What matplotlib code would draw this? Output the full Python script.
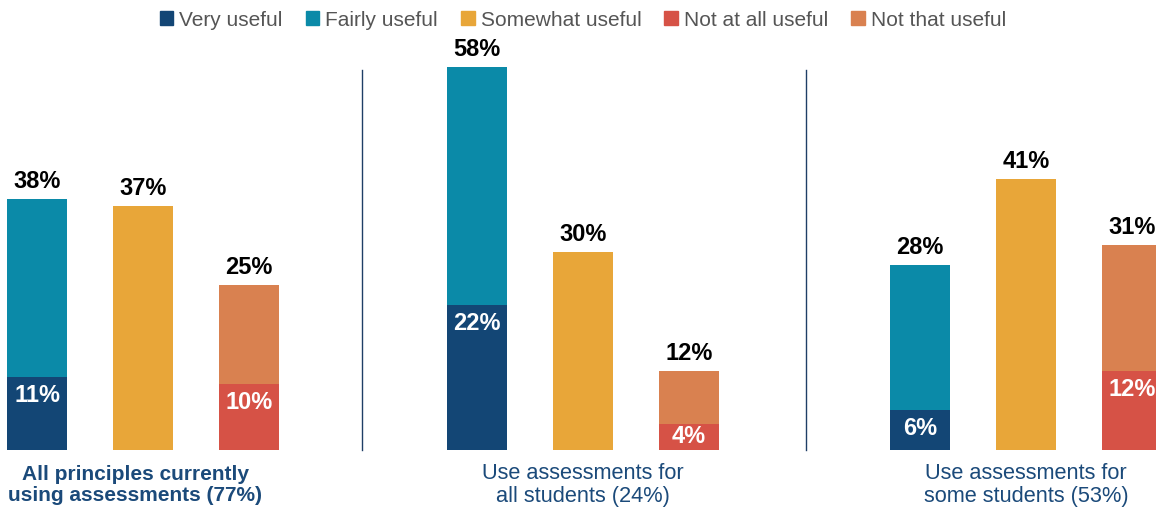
import numpy as np
import matplotlib.pyplot as plt
from matplotlib.patches import Patch

plt.rcParams['font.family'] = ['Liberation Sans', 'DejaVu Sans']

# données
groupes = ["All principles currently\nusing assessments (77%)",
           "Use assessments for\nall students (24%)",
           "Use assessments for\nsome students (53%)"]
very_useful = [11, 22, 6]
useful_total = [38, 58, 28]      # very + fairly
somewhat_useful = [37, 30, 41]
not_at_all = [10, 4, 12]
not_useful_total = [25, 12, 31]  # not at all + not that

legende = ["Very useful", "Fairly useful", "Somewhat useful", "Not at all useful", "Not that useful"]
couleurs = ["#134675", "#0b8aa8", "#e8a639", "#d65246", "#d98150"]

centres = np.array([143, 583, 1026])
ecart = 106
largeur = 60

fig = plt.figure(figsize=(11.56, 5.11), dpi=100)
ax = fig.add_axes([0, 0, 1, 1])
ax.set_xlim(0, 1156)
ax.set_ylim(-61 / 6.6, 450 / 6.6)
ax.axis('off')

x1 = centres - ecart
x2 = centres
x3 = centres + ecart

# barres empilées
fairly = np.array(useful_total) - np.array(very_useful)
not_that = np.array(not_useful_total) - np.array(not_at_all)
ax.bar(x1, very_useful, largeur, color=couleurs[0])
ax.bar(x1, fairly, largeur, bottom=very_useful, color=couleurs[1])
ax.bar(x2, somewhat_useful, largeur, color=couleurs[2])
ax.bar(x3, not_at_all, largeur, color=couleurs[3])
ax.bar(x3, not_that, largeur, bottom=not_at_all, color=couleurs[4])

# étiquettes
for xs, tot in [(x1, useful_total), (x2, somewhat_useful), (x3, not_useful_total)]:
    for x, v in zip(xs, tot):
        ax.text(x, v + 0.9, f"{v}%", ha='center', va='bottom',
                fontsize=17, fontweight='bold', color='black')
for xs, vals in [(x1, very_useful), (x3, not_at_all)]:
    for x, v in zip(xs, vals):
        ax.text(x, v - min(2.8, v / 2), f"{v}%", ha='center', va='center',
                fontsize=17, fontweight='bold', color='white')

# séparateurs
for xl in [362, 806]:
    ax.plot([xl, xl], [0, 380 / 6.6], color="#1f3f66", lw=1)

# noms des groupes
for i, (x, g) in enumerate(zip(centres, groupes)):
    if i == 0:
        ax.text(x - 8, -5.3, g, ha='center', va='center', fontsize=15,
                color="#1b4a7a", fontweight='bold', linespacing=1.12)
    else:
        ax.text(x, -5.3, g, ha='center', va='center', fontsize=15.7,
                color="#1b4a7a", linespacing=1.08)

poignees = [Patch(color=c, label=l) for c, l in zip(couleurs, legende)]
leg = fig.legend(handles=poignees, loc='center', bbox_to_anchor=(583 / 1156, 1 - 20 / 511),
                 ncol=5, frameon=False, fontsize=15, handlelength=0.65, handleheight=0.65,
                 handletextpad=0.3, columnspacing=1.1)
for t in leg.get_texts():
    t.set_color("#555555")

fig.savefig("out.png", dpi=100)
